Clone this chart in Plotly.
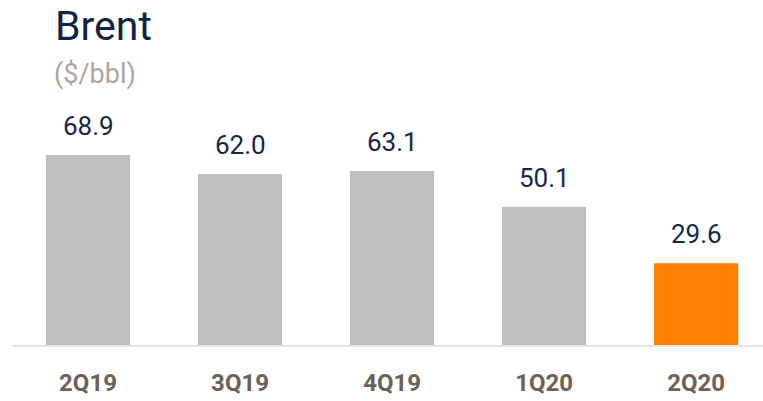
import plotly.graph_objects as go

categories = ["2Q19", "3Q19", "4Q19", "1Q20", "2Q20"]
values = [68.9, 62.0, 63.1, 50.1, 29.6]
value_labels = ["68.9", "62.0", "63.1", "50.1", "29.6"]
bar_colors = ["#bfbfbf", "#bfbfbf", "#bfbfbf", "#bfbfbf", "#ff8000"]

W, H = 763, 401
L, T, B = 12, 100, 56
PW = W - L
PH = H - T - B

fig = go.Figure()
fig.add_trace(go.Bar(x=categories, y=values, marker=dict(color=bar_colors, line=dict(width=0)),
                     hoverinfo="skip"))

for c, v, t in zip(categories, values, value_labels):
    fig.add_annotation(x=c, y=v, text=t, showarrow=False, yanchor="bottom", yshift=12,
                       font=dict(family="Roboto", size=26, color="#13294b"))

fig.update_layout(
    width=W, height=H,
    margin=dict(l=L, r=0, t=T, b=B, autoexpand=False),
    paper_bgcolor="white", plot_bgcolor="white",
    showlegend=False,
    bargap=0.447,
    xaxis=dict(range=[-0.5, 4.44], showline=True, linecolor="#e8e2e2", linewidth=2,
               ticks="", showgrid=False, ticklabelstandoff=15, fixedrange=True,
               tickfont=dict(family="Roboto", size=24, color="#6e6058", weight="bold")),
    yaxis=dict(range=[0, 88.8], visible=False, showgrid=False, zeroline=False, fixedrange=True),
)

fig.add_annotation(xref="paper", yref="paper", x=(53 - L) / PW, y=1 + (T - 26) / PH,
                   xanchor="left", yanchor="middle",
                   text="Brent", showarrow=False, font=dict(family="Roboto", size=41, color="#0f2444"))
fig.add_annotation(xref="paper", yref="paper", x=(52 - L) / PW, y=1 + (T - 74) / PH,
                   xanchor="left", yanchor="middle",
                   text="($/bbl)", showarrow=False, font=dict(family="Roboto", size=27, color="#b1a59d"))

fig.write_html("out.html", config={"displayModeBar": False},
               post_script="document.body.style.margin='0';document.body.style.overflow='hidden';")
